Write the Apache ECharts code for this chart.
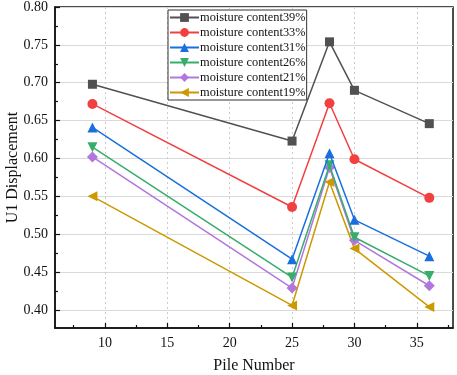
<!DOCTYPE html>
<html>
<head>
<meta charset="utf-8">
<script src="https://cdn.jsdelivr.net/npm/echarts@6/dist/echarts.min.js"></script>
<style>
  html, body { margin: 0; padding: 0; background: #fff; }
  #main { width: 457px; height: 375px; }
</style>
</head>
<body>
<div id="main"></div>
<script>
// pile numbers on the x axis
const piles = [9, 25, 28, 30, 36];

// U1 displacement per moisture content
const mc39 = [0.698, 0.623, 0.754, 0.690, 0.646];
const mc33 = [0.672, 0.536, 0.673, 0.599, 0.548];
const mc31 = [0.641, 0.467, 0.607, 0.519, 0.471];
const mc26 = [0.615, 0.443, 0.591, 0.496, 0.445];
const mc21 = [0.602, 0.429, 0.588, 0.492, 0.432];
const mc19 = [0.550, 0.406, 0.569, 0.481, 0.404];

const seriesNames = ['moisture content39%', 'moisture content33%', 'moisture content31%',
  'moisture content26%', 'moisture content21%', 'moisture content19%'];

// tick labels
const xTicks = [10, 15, 20, 25, 30, 35];
const xMinor = [7.5, 12.5, 17.5, 22.5, 27.5, 32.5, 37.5];
const yTicks = [0.40, 0.45, 0.50, 0.55, 0.60, 0.65, 0.70, 0.75, 0.80];
const yMinor = [0.375, 0.425, 0.475, 0.525, 0.575, 0.625, 0.675, 0.725, 0.775];

const colors = ['#515151', '#F14040', '#1A6FDF', '#37AD6B', '#B177DE', '#CC9900'];
const symbols = ['rect', 'circle', 'triangle', 'triangle', 'diamond', 'triangle'];
const rotates = [0, 0, 0, 180, 0, 90];
const sizes = [9, 10, 10, 10, 11, 10];

const font = 'Liberation Serif, Times New Roman, serif';
const allData = [mc39, mc33, mc31, mc26, mc21, mc19];

const chart = echarts.init(document.getElementById('main'));

const option = {
  animation: false,
  color: colors,
  grid: {
    left: 55, right: 4, top: 7, bottom: 47,
    outerBoundsMode: 'none',
    show: true,
    borderColor: '#111',
    borderWidth: 1.5,
    backgroundColor: 'transparent'
  },
  legend: {
    orient: 'vertical',
    left: 168, top: 10,
    padding: [1, 1, 1, 1],
    itemWidth: 29, itemHeight: 11, itemGap: 2,
    backgroundColor: '#fff',
    borderColor: '#333', borderWidth: 1,
    textStyle: { fontFamily: font, fontSize: 12.4, color: '#111', lineHeight: 13, padding: [0, 0, 0, -4] },
    data: seriesNames
  },
  xAxis: [{
    type: 'value',
    min: 6, max: 37.9,
    name: 'Pile Number',
    nameLocation: 'middle',
    nameGap: 30,
    nameMoveOverlap: false,
    nameTextStyle: { fontFamily: font, fontSize: 16, color: '#111' },
    axisLine: { show: true, lineStyle: { color: '#111', width: 1.5 } },
    axisTick: { show: true, inside: true, length: 5, customValues: xTicks, lineStyle: { color: '#111', width: 1.2 } },
    axisLabel: { customValues: xTicks, fontFamily: font, fontSize: 14, color: '#111', margin: 8 },
    splitLine: { show: true, lineStyle: { color: '#ccc', type: [2, 3], width: 1 } }
  }, {
    type: 'value',
    min: 6, max: 37.9,
    position: 'bottom',
    axisLine: { show: false },
    axisTick: { show: true, inside: true, length: 3, customValues: xMinor, lineStyle: { color: '#111', width: 1.2 } },
    axisLabel: { show: false },
    splitLine: { show: false }
  }],
  yAxis: [{
    type: 'value',
    min: 0.3762, max: 0.80,
    name: 'U1 Displacement',
    nameLocation: 'middle',
    nameGap: 34,
    nameMoveOverlap: false,
    nameTextStyle: { fontFamily: font, fontSize: 16, color: '#111' },
    axisLine: { show: true, lineStyle: { color: '#111', width: 1.5 } },
    axisTick: { show: true, inside: true, length: 5, customValues: yTicks, lineStyle: { color: '#111', width: 1.2 } },
    axisLabel: {
      customValues: yTicks, fontFamily: font, fontSize: 14, color: '#111', margin: 7,
      formatter: v => v.toFixed(2)
    },
    splitLine: { show: true, lineStyle: { color: '#d9d9d9', width: 1 } }
  }, {
    type: 'value',
    min: 0.3762, max: 0.80,
    position: 'left',
    axisLine: { show: false },
    axisTick: { show: true, inside: true, length: 3, customValues: yMinor, lineStyle: { color: '#111', width: 1.2 } },
    axisLabel: { show: false },
    splitLine: { show: false }
  }],
  series: seriesNames.map((name, i) => ({
    name: name,
    type: 'line',
    xAxisIndex: 0,
    yAxisIndex: 0,
    data: piles.map((p, j) => [p, allData[i][j]]),
    symbol: symbols[i],
    symbolSize: sizes[i],
    symbolRotate: rotates[i],
    showAllSymbol: true,
    lineStyle: { width: 1.5, color: colors[i] },
    itemStyle: { color: colors[i] },
    z: 10 - i
  }))
};

chart.setOption(option);
</script>
</body>
</html>
